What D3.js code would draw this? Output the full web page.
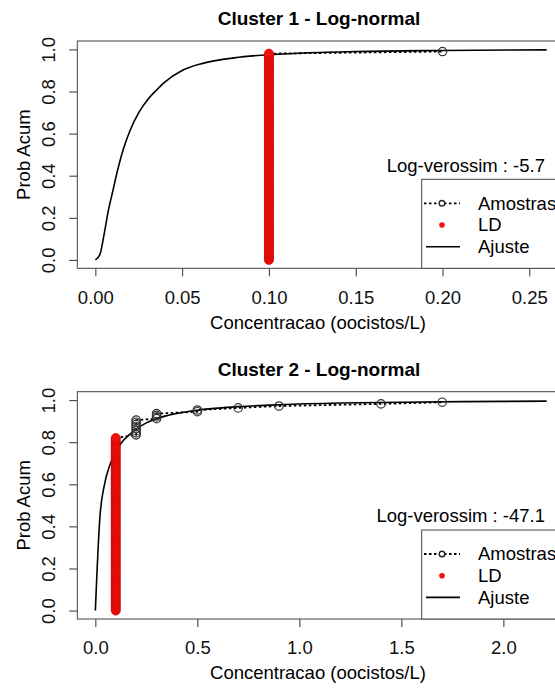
<!DOCTYPE html>
<html lang="pt">
<head>
<meta charset="utf-8">
<title>Clusters - Log-normal</title>
<script src="https://cdn.jsdelivr.net/npm/d3@7"></script>
<style>
  html, body { margin: 0; padding: 0; background: white; overflow: hidden; }
  svg { display: block; font-family: "Liberation Sans", Arial, Helvetica, sans-serif; }
  .tick line { stroke: #333; }
  .tick text { font-size: 18.5px; fill: #111; }
</style>
</head>
<body>
<div id="chart"></div>
<script>
// ---- data ----
var titles = ["Cluster 1 - Log-normal", "Cluster 2 - Log-normal"];
var logLik = ["Log-verossim : -5.7", "Log-verossim : -47.1"];
var legendLabels = ["Amostras", "LD", "Ajuste"];
var xLabel = "Concentracao (oocistos/L)";
var yLabel = "Prob Acum";

var xTicks1 = [0, 0.05, 0.10, 0.15, 0.20, 0.25];
var xTicks2 = [0, 0.5, 1.0, 1.5, 2.0];
var yTicks = [0, 0.2, 0.4, 0.6, 0.8, 1.0];
var xMax1 = 0.26;
var xMax2 = 2.212;

// cluster 1 : samples below the detection limit (LD), all at x = 0.1
var ldX1 = 0.1;
var ldY1 = [0,0.01,0.02,0.03,0.04,0.05,0.06,0.07,0.08,0.09,0.1,0.11,0.12,0.13,0.14,0.15,0.16,0.17,0.18,0.19,
            0.2,0.21,0.22,0.23,0.24,0.25,0.26,0.27,0.28,0.29,0.3,0.31,0.32,0.33,0.34,0.35,0.36,0.37,0.38,0.39,
            0.4,0.41,0.42,0.43,0.44,0.45,0.46,0.47,0.48,0.49,0.5,0.51,0.52,0.53,0.54,0.55,0.56,0.57,0.58,0.59,
            0.6,0.61,0.62,0.63,0.64,0.65,0.66,0.67,0.68,0.69,0.7,0.71,0.72,0.73,0.74,0.75,0.76,0.77,0.78,0.79,
            0.8,0.81,0.82,0.83,0.84,0.85,0.86,0.87,0.88,0.89,0.9,0.91,0.92,0.93,0.94,0.95,0.96,0.97,0.98];
var sampX1 = [0.2];
var sampY1 = [0.99];
var fitX1 = [0, 0.0026, 0.005, 0.0075, 0.01, 0.0125, 0.015, 0.0175, 0.02, 0.025, 0.03, 0.035, 0.04, 0.05, 0.06, 0.07, 0.08, 0.1, 0.12, 0.15, 0.2, 0.26];
var fitY1 = [0, 0.025, 0.12, 0.235, 0.325, 0.415, 0.495, 0.56, 0.615, 0.7, 0.76, 0.805, 0.845, 0.9, 0.93, 0.948, 0.96, 0.975, 0.983, 0.99, 0.995, 0.998];

// cluster 2
var ldX2 = 0.1;
var ldY2 = [0,0.01,0.02,0.03,0.04,0.05,0.06,0.07,0.08,0.09,0.1,0.11,0.12,0.13,0.14,0.15,0.16,0.17,0.18,0.19,
            0.2,0.21,0.22,0.23,0.24,0.25,0.26,0.27,0.28,0.29,0.3,0.31,0.32,0.33,0.34,0.35,0.36,0.37,0.38,0.39,
            0.4,0.41,0.42,0.43,0.44,0.45,0.46,0.47,0.48,0.49,0.5,0.51,0.52,0.53,0.54,0.55,0.56,0.57,0.58,0.59,
            0.6,0.61,0.62,0.63,0.64,0.65,0.66,0.67,0.68,0.69,0.7,0.71,0.72,0.73,0.74,0.75,0.76,0.77,0.78,0.79,
            0.8,0.81,0.82];
var sampX2 = [0.2,0.2,0.2,0.2,0.2,0.2,0.2,0.2,0.3,0.3,0.3,0.3,0.5,0.5,0.7,0.9,1.4,1.7];
var sampY2 = [0.835,0.845,0.855,0.865,0.875,0.885,0.895,0.905,0.912,0.92,0.928,0.936,0.945,0.953,0.963,0.972,0.982,0.99];
var fitX2 = [0, 0.022, 0.045, 0.067, 0.09, 0.112, 0.134, 0.16, 0.2, 0.25, 0.3, 0.4, 0.5, 0.6, 0.7, 0.9, 1.2, 1.5, 1.8, 2.212];
var fitY2 = [0, 0.44, 0.6, 0.68, 0.735, 0.775, 0.805, 0.83, 0.862, 0.892, 0.912, 0.937, 0.952, 0.962, 0.969, 0.978, 0.986, 0.99, 0.993, 0.995];

// ---- layout ----
var W = 555, H = 688;
var panelShift = [0, 350.7];
var boxL = 77.3, boxR = 564.7, boxT = 41, boxB = 268.3;
var red = "#f01010";

var svg = d3.select("#chart").append("svg")
    .attr("width", W)
    .attr("height", H);

function drawPanel(i, xMax, xTicks, xFmt, ldX, ldY, sampX, sampY, fitX, fitY) {
  var g = svg.append("g").attr("transform", "translate(0," + panelShift[i] + ")");

  var pad = 0.04 * xMax;
  var x = d3.scaleLinear().domain([-pad, xMax + pad]).range([boxL, boxR]);
  var y = d3.scaleLinear().domain([-0.04, 1.04]).range([boxB, boxT]);

  // title
  g.append("text")
    .attr("x", (boxL + boxR) / 2 - 2)
    .attr("y", 25)
    .attr("text-anchor", "middle")
    .style("font-size", "19px")
    .style("font-weight", "bold")
    .text(titles[i]);

  // axes
  var xAxis = g.append("g")
    .attr("transform", "translate(0," + boxB + ")")
    .call(d3.axisBottom(x).tickValues(xTicks).tickFormat(d3.format(xFmt)).tickSize(8).tickSizeOuter(0));
  xAxis.select(".domain").remove();
  xAxis.selectAll(".tick text").attr("y", 29).attr("dy", "0.35em");

  var yAxis = g.append("g")
    .attr("transform", "translate(" + boxL + ",0)")
    .call(d3.axisLeft(y).tickValues(yTicks).tickFormat(d3.format(".1f")).tickSize(8).tickSizeOuter(0));
  yAxis.select(".domain").remove();
  yAxis.selectAll(".tick text")
    .attr("x", 0)
    .attr("dy", "0.35em")
    .attr("text-anchor", "middle")
    .attr("transform", "translate(-29,0) rotate(-90)");

  // axis titles
  g.append("text")
    .attr("x", (boxL + boxR) / 2 - 3)
    .attr("y", boxB + 54)
    .attr("dy", "0.35em")
    .attr("text-anchor", "middle")
    .style("font-size", "18.5px")
    .text(xLabel);

  g.append("text")
    .attr("transform", "translate(" + (boxL - 54) + "," + ((y(0) + y(1)) / 2) + ") rotate(-90)")
    .attr("dy", "0.35em")
    .attr("text-anchor", "middle")
    .style("font-size", "18.5px")
    .text(yLabel);

  // fitted curve
  var fit = fitX.map(function(d, k) { return [d, fitY[k]]; });
  var line = d3.line()
    .x(function(d) { return x(d[0]); })
    .y(function(d) { return y(d[1]); })
    .curve(d3.curveMonotoneX);

  g.append("path")
    .datum(fit)
    .attr("d", line)
    .attr("fill", "none")
    .attr("stroke", "#000")
    .attr("stroke-width", 1.6);

  // samples (dotted, starting at the top LD point)
  var samp = sampX.map(function(d, k) { return [d, sampY[k]]; });
  var dotted = [[ldX, ldY[ldY.length - 1]]].concat(samp);
  g.append("path")
    .datum(dotted)
    .attr("d", d3.line().x(function(d) { return x(d[0]); }).y(function(d) { return y(d[1]); }))
    .attr("fill", "none")
    .attr("stroke", "#000")
    .attr("stroke-width", 1.8)
    .attr("stroke-dasharray", "2.5,2.5");

  g.selectAll(".samp")
    .data(samp)
    .enter()
    .append("circle")
    .attr("cx", function(d) { return x(d[0]); })
    .attr("cy", function(d) { return y(d[1]); })
    .attr("r", 4.2)
    .attr("fill", "none")
    .attr("stroke", "#333")
    .attr("stroke-width", 1.2);

  // LD points
  g.selectAll(".ld")
    .data(ldY)
    .enter()
    .append("circle")
    .attr("cx", x(ldX))
    .attr("cy", function(d) { return y(d); })
    .attr("r", 4.6)
    .attr("fill", red)
    .attr("stroke", "#c00000")
    .attr("stroke-width", 0.6);

  // box
  g.append("rect")
    .attr("x", boxL)
    .attr("y", boxT)
    .attr("width", boxR - boxL)
    .attr("height", boxB - boxT)
    .attr("fill", "none")
    .attr("stroke", "#444")
    .attr("stroke-width", 1);

  // log-likelihood text
  g.append("text")
    .attr("x", 545)
    .attr("y", 171.5)
    .attr("text-anchor", "end")
    .style("font-size", "18.5px")
    .text(logLik[i]);

  // legend
  var lg = g.append("g");
  lg.append("rect")
    .attr("x", 421.7)
    .attr("y", 179.3)
    .attr("width", 200)
    .attr("height", boxB - 179.3)
    .attr("fill", "white")
    .attr("stroke", "#444")
    .attr("stroke-width", 1);

  var rowY = [203.3, 225, 246.7];
  lg.append("line")
    .attr("x1", 424).attr("x2", 460)
    .attr("y1", rowY[0]).attr("y2", rowY[0])
    .attr("stroke", "#000").attr("stroke-width", 1.8)
    .attr("stroke-dasharray", "2.5,2.5");
  lg.append("circle")
    .attr("cx", 442).attr("cy", rowY[0]).attr("r", 2.8)
    .attr("fill", "white").attr("stroke", "#222").attr("stroke-width", 1.4);
  lg.append("circle")
    .attr("cx", 442).attr("cy", rowY[1]).attr("r", 2.8)
    .attr("fill", red);
  lg.append("line")
    .attr("x1", 426).attr("x2", 460)
    .attr("y1", rowY[2]).attr("y2", rowY[2])
    .attr("stroke", "#000").attr("stroke-width", 1.6);

  lg.selectAll(".lab")
    .data(legendLabels)
    .enter()
    .append("text")
    .attr("x", 478)
    .attr("y", function(d, k) { return rowY[k]; })
    .attr("dy", "0.35em")
    .style("font-size", "18.5px")
    .text(function(d) { return d; });
}

drawPanel(0, xMax1, xTicks1, ".2f", ldX1, ldY1, sampX1, sampY1, fitX1, fitY1);
drawPanel(1, xMax2, xTicks2, ".1f", ldX2, ldY2, sampX2, sampY2, fitX2, fitY2);
</script>
</body>
</html>
